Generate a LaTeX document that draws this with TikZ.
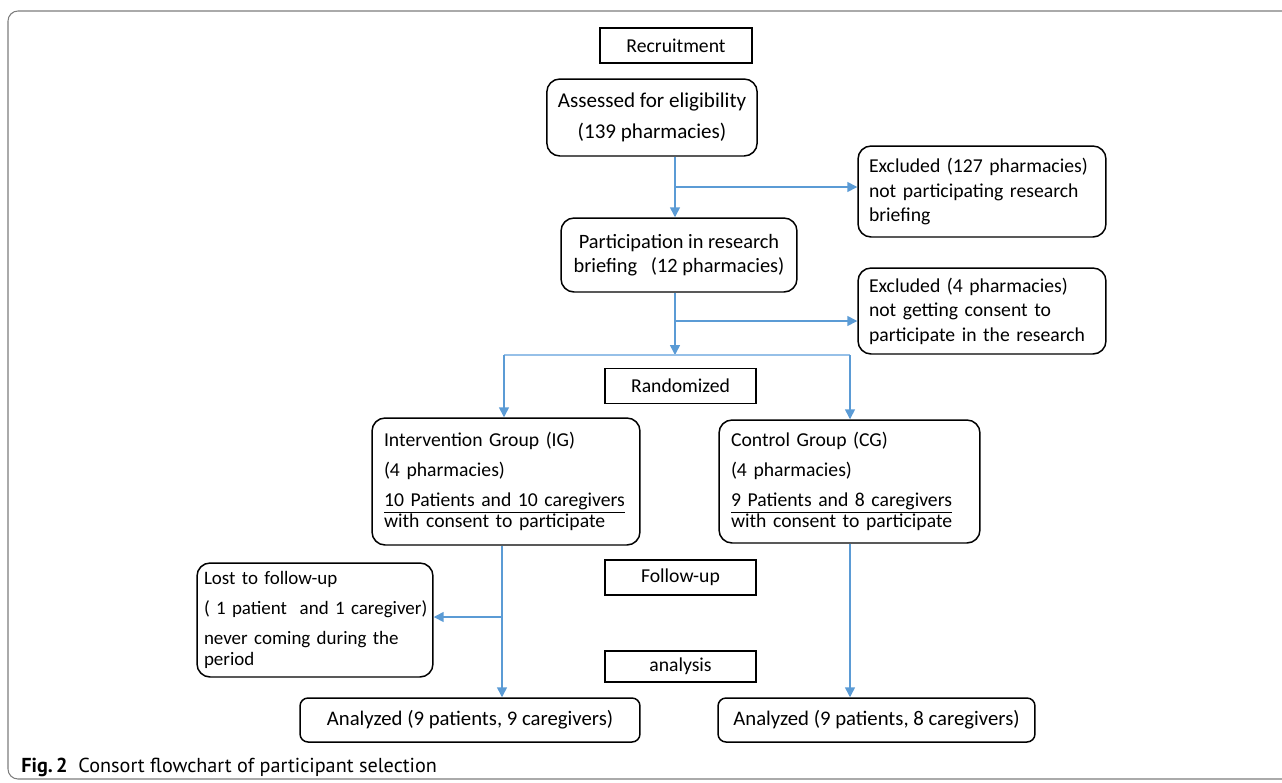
\documentclass[tikz,border=0pt]{standalone}
\usepackage{fontspec}
\setmainfont{Carlito}
\newfontfamily\capfont{PT Sans}
\usepackage{xcolor}
\usetikzlibrary{arrows.meta, positioning}

\definecolor{flowblue}{RGB}{91,155,213}
\definecolor{splitblue}{RGB}{150,192,232}
\definecolor{framegray}{RGB}{125,125,125}
\hyphenpenalty=10000
\exhyphenpenalty=10000

\begin{document}
\begin{tikzpicture}[
        x=0.02cm, y=-0.02cm,
        font=\fontsize{11.2}{14}\selectfont,
        stage/.style={
            rectangle,
            draw,
            line width=0.85pt,
            minimum width=3.02cm,
            minimum height=0.7cm,
            inner sep=0pt,
            align=center
        },
        panel/.style={
            rectangle,
            draw,
            line width=0.85pt,
            rounded corners=0.26cm,
            inner xsep=0.22cm,
            inner ysep=0pt,
            align=left
        },
        flow/.style={
            draw=flowblue,
            line width=0.85pt,
            -{Triangle[length=0.2cm, width=0.2cm]}
        },
        >=Stealth
    ]

    \useasboundingbox (0,0) rectangle (1282,782);
    \draw[framegray, line width=0.6pt, rounded corners=0.2cm] (1300,11) -- (8,11) -- (8,779) -- (1300,779);

    % Stage labels
    \node[stage, minimum width=3.04cm] (recruit) at (676,45.5) {Recruitment};
    \node[stage] (random) at (680.5,386) {Randomized};
    \node[stage] (follow) at (680.5,577.5) {Follow-up};
    \node[stage, minimum height=0.62cm] (analysis) at (680.5,666.5) {analysis};

    % Boxes
    \node[panel, align=center, font=\fontsize{12}{14}\selectfont, minimum width=3.84cm, minimum height=1.54cm] (assess) at (652,117.5)
        {Assessed for eligibility\\[3.5pt](139 pharmacies)};
    \node[panel, text width=4.52cm, minimum height=1.82cm] (excl1) at (982,191.5)
        {Excluded (127 pharmacies)\\not participating research\\briefing};
    \node[panel, align=center, font=\fontsize{11.6}{13.6}\selectfont, minimum width=4.72cm, minimum height=1.48cm] (brief) at (679,255)
        {Participation in research\\briefing\ \ \ (12 pharmacies)};
    \node[panel, text width=4.52cm, minimum height=1.72cm] (excl2) at (982,311)
        {Excluded (4 pharmacies)\\not getting consent to\\participate in the research};
    \node[panel, inner xsep=0.24cm, text width=4.88cm, minimum height=2.54cm] (ig) at (506,481.5)
        {Intervention Group (IG)\\[3pt](4 pharmacies)\\[3pt]\underline{10 Patients and 10 caregivers}\\[-1.7pt]with consent to participate};
    \node[panel, inner xsep=0.24cm, text width=4.74cm, minimum height=2.46cm] (cg) at (849.5,481.5)
        {Control Group (CG)\\[3pt](4 pharmacies)\\[3pt]\underline{9 Patients and 8 caregivers}\\[-1.7pt]with consent to participate};
    \node[panel, font=\fontsize{10.8}{14}\selectfont, inner xsep=0.14cm, text width=4.44cm, minimum height=2.28cm] (lost) at (315,620)
        {Lost to follow-up\\[3pt]\mbox{( 1 patient\ \ and 1 caregiver)}\\[3pt]never coming during the\\[-1.7pt]period};
    \node[panel, align=center, font=\fontsize{11.8}{14}\selectfont, rounded corners=0.16cm, minimum width=6.8cm, minimum height=0.88cm] (anaIG) at (470,720)
        {Analyzed (9 patients, 9 caregivers)};
    \node[panel, align=center, font=\fontsize{11.8}{14}\selectfont, rounded corners=0.16cm, minimum width=6.34cm, minimum height=0.88cm] (anaCG) at (876.5,720)
        {Analyzed (9 patients, 8 caregivers)};

    % Branch points
    \coordinate (spine) at (675,187);
    \coordinate (spine2) at (675,321);
    \coordinate (split) at (675,355);
    \coordinate (splitL) at (504,355);
    \coordinate (splitR) at (850,355);
    \coordinate (igspine) at (502,617);

    % Arrows
    \draw[flow] (assess.south -| spine) -- (brief.north -| spine);
    \draw[flow] (spine) -- (spine -| excl1.west);
    \draw[flow] (brief.south -| split) -- (split);
    \draw[flow] (spine2) -- (spine2 -| excl2.west);
    \draw[splitblue, line width=0.7pt] (splitL) -- (splitR);
    \draw[flow] (splitL) -- (ig.north -| splitL);
    \draw[flow] (splitR) -- (cg.north -| splitR);
    \draw[flow] (ig.south -| igspine) -- (anaIG.north -| igspine);
    \draw[flow] (igspine) -- (igspine -| lost.east);
    \draw[flow] (cg.south -| splitR) -- (anaCG.north -| splitR);

    % Caption
    \node[anchor=base west, inner sep=0pt, font=\capfont\fontsize{11.5}{14}\selectfont] (caption) at (21,772)
        {\textbf{Fig.\,2}\ \ Consort flowchart of participant selection};

\end{tikzpicture}
\end{document}
